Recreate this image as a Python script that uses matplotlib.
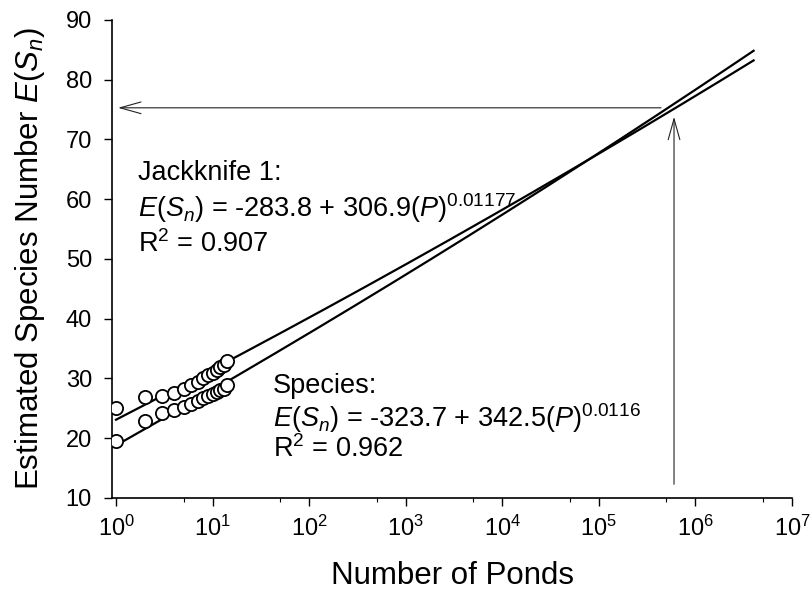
import numpy as np
from matplotlib import pyplot as plt
from matplotlib.ticker import FixedLocator, LogFormatterMathtext

plt.rcParams["font.family"] = ["Liberation Sans", "DejaVu Sans"]
plt.rcParams["mathtext.fontset"] = "custom"
plt.rcParams["mathtext.rm"] = "Liberation Sans"
plt.rcParams["mathtext.it"] = "Liberation Sans:italic"
plt.rcParams["mathtext.bf"] = "Liberation Sans:bold"

# observed estimates for 1..14 ponds
ponds = np.arange(1, 15)
jackknife = [25.0, 26.9, 27.0, 27.5, 28.2, 28.9, 29.4, 30.0, 30.5, 31.0, 31.5, 31.9, 32.3, 33.0]
species = [19.5, 22.8, 24.2, 24.7, 25.2, 25.7, 26.2, 26.7, 27.0, 27.4, 27.7, 28.0, 28.3, 28.9]

# fitted curves E(Sn) = a + b * P**c
jack_fit = (-283.8, 306.9, 0.01177)
spec_fit = (-323.7, 342.5, 0.0116)
fit_range = (1, 4.0e6)

# extrapolation arrows
target_ponds = 6.0e5
target_species = 75.3


def fit_curve(coefs, p):
    a, b, c = coefs
    return a + b * p ** c


fig = plt.figure(figsize=(8.1, 5.91), dpi=100)
ax = fig.add_axes([0.1383, 0.1574, 0.8395, 0.8088])

p = np.logspace(np.log10(fit_range[0]), np.log10(fit_range[1]), 200)
ax.plot(p, fit_curve(jack_fit, p), color="black", lw=1.6)
ax.plot(p, fit_curve(spec_fit, p), color="black", lw=1.6)

mk = dict(ls="none", marker="o", ms=9.5, mfc="white", mec="black", mew=1.3, zorder=3)
ax.plot(ponds, jackknife, **mk)
ax.plot(ponds, species, **mk)

arrow = dict(arrowstyle="->,head_length=1.5,head_width=0.42", lw=0.8, color="#222222",
             shrinkA=0, shrinkB=0, mutation_scale=10)
ax.annotate("", xy=(1.05, target_species), xytext=(4.4e5, target_species), arrowprops=arrow)
ax.annotate("", xy=(target_ponds, 73.8), xytext=(target_ponds, 12.3), arrowprops=arrow)

ax.set_xscale("log")
ax.set_xlim(0.909, 1e7)
ax.set_ylim(10, 90)
ax.set_yticks(np.arange(10, 91, 10))
ax.xaxis.set_major_locator(FixedLocator([10.0 ** k for k in range(8)]))
ax.xaxis.set_minor_locator(FixedLocator([5 * 10.0 ** k for k in range(7)]))
ax.xaxis.set_major_formatter(LogFormatterMathtext())
ax.xaxis.set_minor_formatter(plt.NullFormatter())

for side in ("top", "right"):
    ax.spines[side].set_visible(False)
for side in ("left", "bottom"):
    ax.spines[side].set_linewidth(1.2)
ax.tick_params(which="major", direction="out", length=5.5, width=1.0, labelsize=17, pad=7)
ax.tick_params(which="minor", direction="out", length=3, width=0.8)
ax.tick_params(axis="y", pad=9)

ax.set_xlabel("Number of Ponds", fontsize=22.5, labelpad=15)
ax.set_ylabel(r"Estimated Species Number $\mathit{E(S_n)}$", fontsize=22.5, labelpad=13)

fs = 19.5
ax.text(1.69, 63.2, "Jackknife 1:", fontsize=fs)
ax.text(1.69, 57.0, r"$\mathit{E(S_n)}$ = -283.8 + 306.9($\mathit{P}$)$^{0.01177}$", fontsize=fs)
ax.text(1.69, 51.2, r"R$^2$ = 0.907", fontsize=fs)
ax.text(42.2, 27.6, "Species:", fontsize=fs)
ax.text(42.2, 21.9, r"$\mathit{E(S_n)}$ = -323.7 + 342.5($\mathit{P}$)$^{0.0116}$", fontsize=fs)
ax.text(42.2, 16.9, r"R$^2$ = 0.962", fontsize=fs)

fig.savefig("out.png", dpi=100)
